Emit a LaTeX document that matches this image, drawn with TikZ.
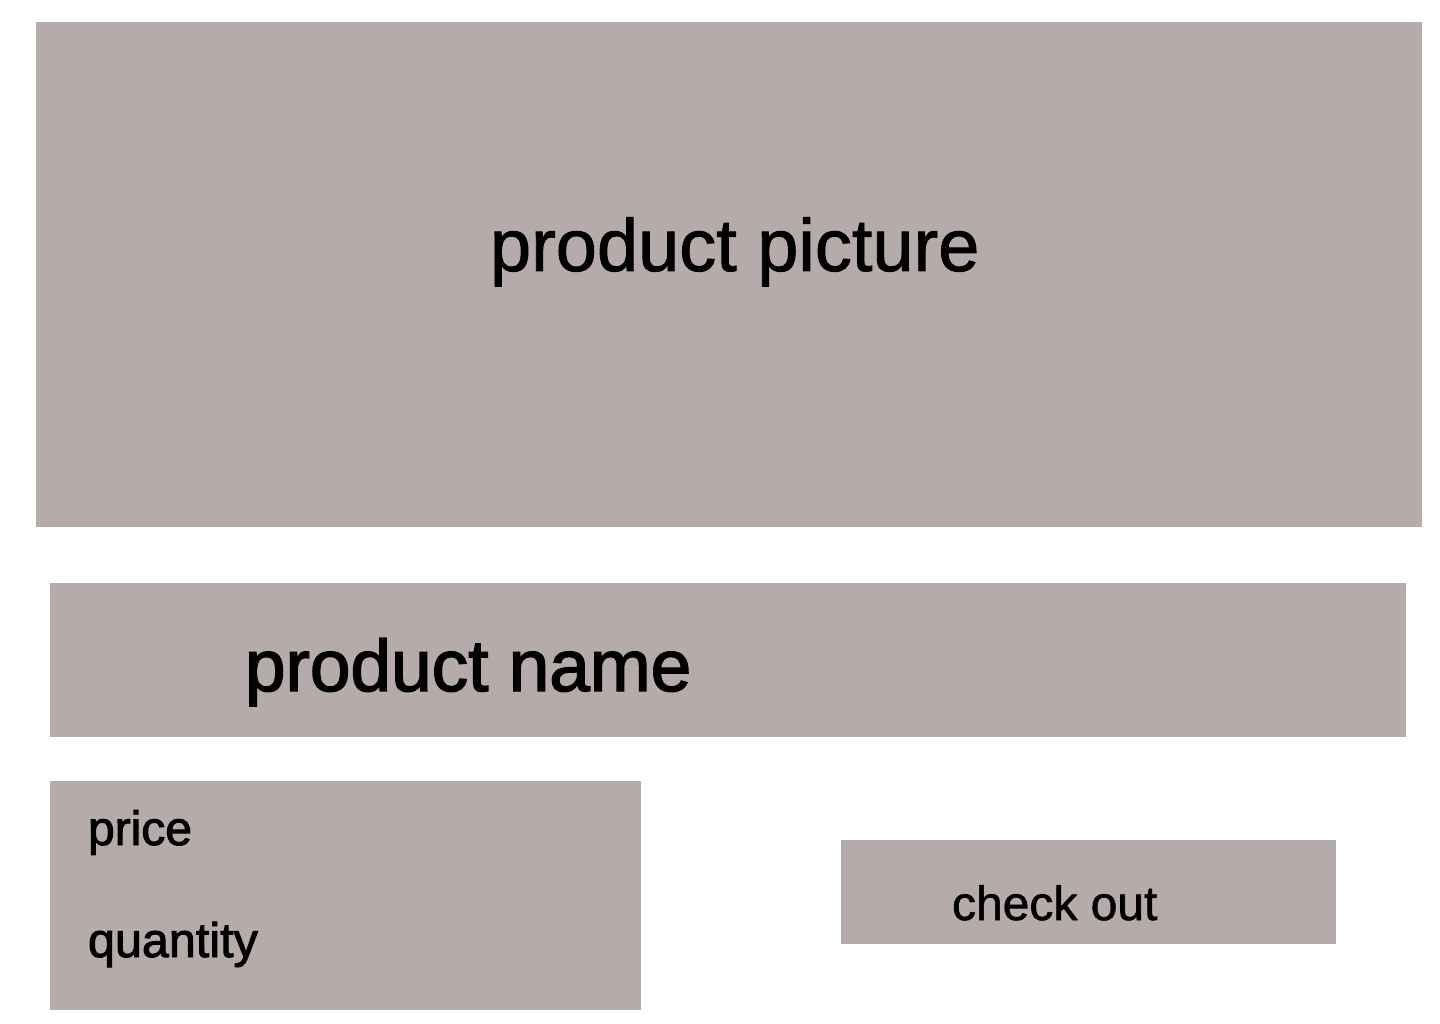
\documentclass[tikz,border=0pt]{standalone}
\usepackage{fontspec}
\setmainfont{Liberation Sans}
\newfontfamily\heavyA{Liberation Sans}[BoldFont={Liberation Sans},BoldFeatures={FakeBold=1.2}]
\newfontfamily\heavyB{Liberation Sans}[BoldFont={Liberation Sans},BoldFeatures={FakeBold=2.0}]
\definecolor{boxgray}{HTML}{B4ABAA}
\begin{document}
\begin{tikzpicture}[x=1pt,y=-1pt,
  panel/.style={fill=boxgray,draw=none,inner sep=0pt,outer sep=0pt,anchor=north west},
  lbl/.style={inner sep=0pt,outer sep=0pt,anchor=base west,text=black}]
\useasboundingbox (0,0) rectangle (1440,1024);
\fill[white] (0,0) rectangle (1440,1024);
\node[panel,minimum width=1386pt,minimum height=505pt] (picture) at (36,22) {};
\node[panel,minimum width=1356pt,minimum height=154pt] (name) at (50,583) {};
\node[panel,minimum width=591pt,minimum height=229pt] (price) at (50,781) {};
\node[panel,minimum width=495pt,minimum height=104pt] (checkout) at (841,840) {};
\node[lbl,font=\heavyA\bfseries\fontsize{74}{80}\selectfont] (tpicture) at (490,271) {product picture};
\node[lbl,font=\heavyB\bfseries\fontsize{73}{80}\selectfont] (tname) at (245,691) {product name};
\node[lbl,font=\heavyB\bfseries\fontsize{48}{52}\selectfont] (tprice) at (88,845) {price};
\node[lbl,font=\heavyB\bfseries\fontsize{48.5}{52}\selectfont] (tquantity) at (88,957) {quantity};
\node[lbl,font=\heavyA\bfseries\fontsize{48}{52}\selectfont] (tcheck) at (952,920) {check out};
\end{tikzpicture}
\end{document}
